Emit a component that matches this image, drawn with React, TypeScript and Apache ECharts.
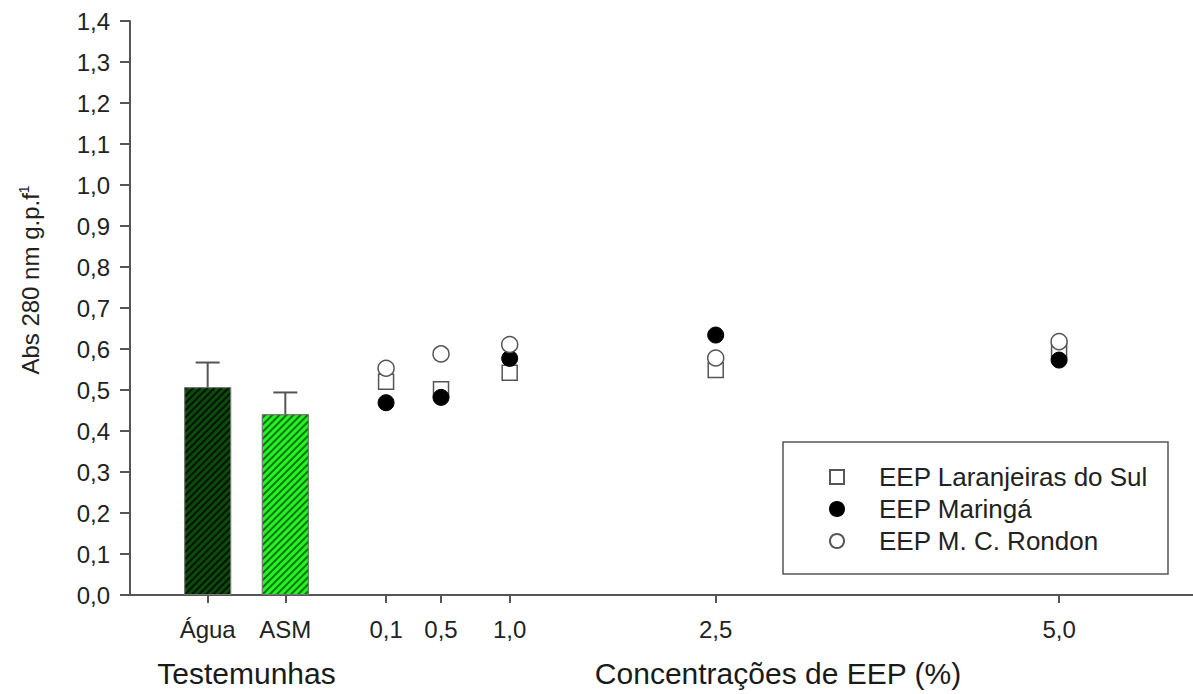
import React, { useEffect, useRef } from "react";
import * as echarts from "echarts";

// Controls (bar chart)
const controlCategories = ["Água", "ASM"];
const controlPositions = [1, 2];
const controlMeans = [0.507, 0.441];
const controlUpper = [0.567, 0.494];

// EEP concentrations (scatter)
const concentrations = [0.1, 0.5, 1.0, 2.5, 5.0];
const concentrationLabels = ["0,1", "0,5", "1,0", "2,5", "5,0"];
const laranjeiras = [0.52, 0.502, 0.542, 0.549, 0.595];
const maringa = [0.469, 0.482, 0.577, 0.634, 0.573];
const rondon = [0.553, 0.588, 0.611, 0.578, 0.618];

const seriesNames = ["EEP Laranjeiras do Sul", "EEP Maringá", "EEP M. C. Rondon"];

const sans = "'Liberation Sans', Arial, sans-serif";
const axisColor = "#555";

export default function App() {
  const ref = useRef<HTMLDivElement>(null);
  useEffect(() => {
    if (!ref.current) return;
    const chart = echarts.init(ref.current, undefined, { renderer: "svg" });
    const axisLine = { show: true, lineStyle: { color: axisColor, width: 2 } };
    const tickStyle = { color: axisColor, width: 2 };
    const option: any = {
      animation: false,
      backgroundColor: "#fff",
      grid: [
        { left: 130, top: 21, width: 233, height: 574 },
        { left: 363, top: 21, width: 830, height: 574 },
      ],
      xAxis: [
        {
          type: "value",
          gridIndex: 0,
          min: 0,
          max: 3,
          splitLine: { show: false },
          axisLine,
          axisTick: { show: true, customValues: controlPositions, length: 8, lineStyle: tickStyle },
          axisLabel: {
            customValues: controlPositions,
            formatter: (v: number) => controlCategories[controlPositions.indexOf(v)] ?? "",
            margin: 22,
            fontSize: 24,
            color: "#222",
            fontFamily: sans,
          },
          name: "Testemunhas",
          nameLocation: "middle",
          nameGap: 63,
          nameTextStyle: { fontSize: 30, color: "#1a1a1a", fontFamily: sans },
        },
        {
          type: "value",
          gridIndex: 1,
          min: -0.068,
          max: 5.975,
          splitLine: { show: false },
          axisLine,
          axisTick: { show: true, customValues: concentrations, length: 8, lineStyle: tickStyle },
          axisLabel: {
            customValues: concentrations,
            formatter: (v: number) => concentrationLabels[concentrations.indexOf(v)] ?? "",
            margin: 22,
            fontSize: 24,
            color: "#222",
            fontFamily: sans,
          },
          name: "Concentrações de EEP (%)",
          nameLocation: "middle",
          nameGap: 63,
          nameTextStyle: { fontSize: 30, color: "#1a1a1a", fontFamily: sans },
        },
      ],
      yAxis: [
        {
          type: "value",
          gridIndex: 0,
          min: 0,
          max: 1.4,
          interval: 0.1,
          splitLine: { show: false },
          axisLine,
          axisTick: { show: true, length: 10, lineStyle: tickStyle },
          axisLabel: {
            formatter: (v: number) => v.toFixed(1).replace(".", ","),
            margin: 20,
            fontSize: 24,
            color: "#222",
            fontFamily: sans,
          },
        },
        { type: "value", gridIndex: 1, min: 0, max: 1.4, show: false },
      ],
      legend: {
        orient: "vertical",
        left: 829,
        top: 464,
        padding: 0,
        itemWidth: 14,
        itemHeight: 14,
        itemGap: 6,
        data: seriesNames,
        textStyle: {
          fontSize: 26,
          color: "#222",
          fontFamily: sans,
          padding: [0, 0, 0, 30],
        },
      },
      graphic: [
        {
          type: "rect",
          shape: { x: 783, y: 442, width: 385, height: 132 },
          style: { fill: "none", stroke: axisColor, lineWidth: 1.5 },
          z: 1,
        },
        {
          type: "text",
          x: 30,
          y: 280,
          rotation: Math.PI / 2,
          style: {
            text: "{m|Abs 280 nm g.p.f}{s|1}",
            align: "center",
            verticalAlign: "middle",
            rich: {
              m: { fontSize: 24, fill: "#222", fontFamily: sans },
              s: { fontSize: 14, fill: "#222", fontFamily: sans, verticalAlign: "top", padding: [0, 0, 12, 0] },
            },
          },
        },
      ],
      series: [
        {
          type: "bar",
          xAxisIndex: 0,
          yAxisIndex: 0,
          barWidth: 47,
          data: controlPositions.map((p, i) => ({
            value: [p, controlMeans[i]],
            itemStyle: {
              color: i === 0 ? "#0c4a0c" : "#22f522",
              borderColor: "#777",
              borderWidth: 1,
              decal: {
                symbol: "rect",
                symbolSize: 1,
                dashArrayX: [1, 0],
                dashArrayY: [2, 3],
                rotation: -Math.PI / 4,
                color: i === 0 ? "rgba(0,0,0,0.75)" : "rgba(0,60,0,0.7)",
              },
            },
          })),
        },
        {
          type: "custom",
          xAxisIndex: 0,
          yAxisIndex: 0,
          z: 5,
          data: controlPositions.map((p, i) => [p, controlMeans[i], controlUpper[i]]),
          renderItem: (params: any, api: any) => {
            const p0 = api.coord([api.value(0), api.value(1)]);
            const p1 = api.coord([api.value(0), api.value(2)]);
            const st = { stroke: axisColor, lineWidth: 2 };
            return {
              type: "group",
              children: [
                { type: "line", shape: { x1: p0[0], y1: p0[1], x2: p1[0], y2: p1[1] }, style: st },
                { type: "line", shape: { x1: p1[0] - 12, y1: p1[1], x2: p1[0] + 12, y2: p1[1] }, style: st },
              ],
            };
          },
        },
        {
          name: seriesNames[0],
          type: "scatter",
          xAxisIndex: 1,
          yAxisIndex: 1,
          symbol: "rect",
          symbolSize: 15,
          itemStyle: { color: "#fff", borderColor: axisColor, borderWidth: 1.5, opacity: 1 },
          data: concentrations.map((c, i) => [c, laranjeiras[i]]),
          z: 3,
        },
        {
          name: seriesNames[1],
          type: "scatter",
          xAxisIndex: 1,
          yAxisIndex: 1,
          symbol: "circle",
          symbolSize: 16,
          itemStyle: { color: "#000", borderColor: "#000", borderWidth: 1, opacity: 1 },
          data: concentrations.map((c, i) => [c, maringa[i]]),
          z: 4,
        },
        {
          name: seriesNames[2],
          type: "scatter",
          xAxisIndex: 1,
          yAxisIndex: 1,
          symbol: "circle",
          symbolSize: 16,
          itemStyle: { color: "#fff", borderColor: axisColor, borderWidth: 1.5, opacity: 1 },
          data: concentrations.map((c, i) => [c, rondon[i]]),
          z: 5,
        },
      ],
    };
    chart.setOption(option);
    return () => chart.dispose();
  }, []);
  return (
    <div
      ref={ref}
      style={{ position: "fixed", left: 0, top: 0, width: 1193, height: 694, background: "#fff" }}
    />
  );
}
